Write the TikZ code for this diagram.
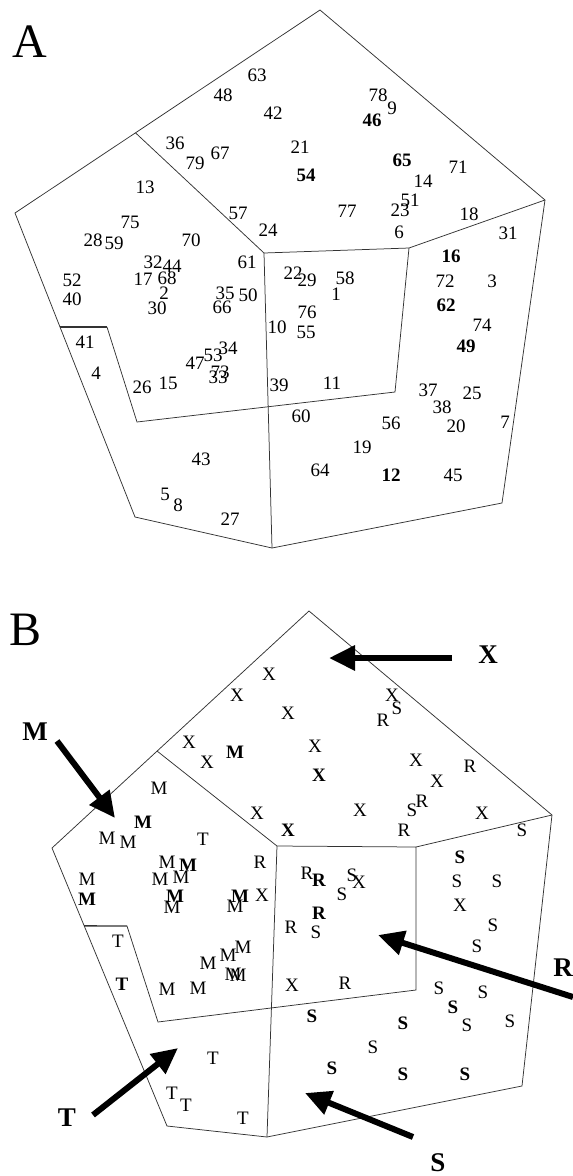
\documentclass[tikz,border=0pt]{standalone}
\usepackage{fontspec}
\setmainfont{Liberation Serif}
\usetikzlibrary{arrows.meta,calc}
\begin{document}
\begin{tikzpicture}[x=1pt,y=-1pt,
  edge/.style={line width=0.75pt,draw=black!80},
  num/.style={font=\fontsize{19}{19}\selectfont,inner sep=0pt},
  numb/.style={font=\fontsize{19}{19}\selectfont\bfseries,inner sep=0pt},
  big/.style={font=\fontsize{48}{48}\selectfont,inner sep=0pt},
  alab/.style={font=\fontsize{27}{27}\selectfont\bfseries,inner sep=0pt},
  fat/.style={line width=6pt,-{Triangle[length=26pt,width=24pt]}}]
\useasboundingbox (0,0) rectangle (573,1176);

% ---------------- Panel A ----------------
\node[big] (labA) at (30,42) {A};
\coordinate (aT) at (320,10);
\coordinate (aR) at (545,200);
\coordinate (aBR) at (502,503);
\coordinate (aB) at (272,548);
\coordinate (aBL) at (135,517);
\coordinate (aL) at (15,213);
\coordinate (aP1) at ($(aL)!0.395!(aT)$);
\coordinate (aQ1) at (264,253);
\coordinate (aQ2) at (409,248);
\coordinate (aQ3) at (395,392);
\coordinate (aM) at (137,422);
\coordinate (aK1) at ($(aL)!0.375!(aBL)$);
\coordinate (aK2) at (107,327);
\draw[edge] (aT)--(aR)--(aBR)--(aB)--(aBL)--(aL)--cycle;
\draw[edge] (aP1)--(aQ1)--(aQ2)--(aQ3)--(aM)--(aK2);
\draw[edge] (aQ1)--(aB);
\draw[edge] (aQ2)--(aR);
\draw[edge,line width=1.3pt] (aK1)--(aK2);

\node[num] (a63) at (257,75) {63};
\node[num] (a48) at (223,95) {48};
\node[num] (a42) at (273,113) {42};
\node[num] (a78) at (378,95) {78};
\node[num] (a9) at (392,108) {9};
\node[numb] (a46) at (372,120) {46};
\node[num] (a36) at (175,143) {36};
\node[num] (a67) at (220,153) {67};
\node[num] (a79) at (195,163) {79};
\node[num] (a21) at (300,147) {21};
\node[numb] (a54) at (306,175) {54};
\node[numb] (a65) at (402,160) {65};
\node[num] (a71) at (458,167) {71};
\node[num] (a14) at (423,181) {14};
\node[num] (a13) at (145,187) {13};
\node[num] (a51) at (410,200) {51};
\node[num] (a23) at (400,210) {23};
\node[num] (a77) at (347,211) {77};
\node[num] (a18) at (469,214) {18};
\node[num] (a57) at (238,213) {57};
\node[num] (a24) at (268,230) {24};
\node[num] (a75) at (130,222) {75};
\node[num] (a6) at (399,232) {6};
\node[num] (a31) at (508,233) {31};
\node[num] (a28) at (93,240) {28};
\node[num] (a59) at (114,243) {59};
\node[num] (a70) at (191,240) {70};
\node[num] (a32) at (153,262) {32};
\node[num] (a44) at (172,266) {44};
\node[num] (a61) at (247,262) {61};
\node[num] (a17) at (143,279) {17};
\node[num] (a68) at (167,278) {68};
\node[num] (a52) at (72,280) {52};
\node[num] (a40) at (72,299) {40};
\node[num] (a2) at (164,293) {2};
\node[num] (a30) at (157,308) {30};
\node[num] (a35) at (225,293) {35};
\node[num] (a50) at (248,295) {50};
\node[num] (a66) at (222,307) {66};
\node[num] (a22) at (293,273) {22};
\node[num] (a29) at (307,280) {29};
\node[num] (a58) at (345,278) {58};
\node[num] (a1) at (336,294) {1};
\node[num] (a76) at (307,312) {76};
\node[num] (a10) at (277,327) {10};
\node[num] (a55) at (306,332) {55};
\node[numb] (a16) at (451,256) {16};
\node[num] (a72) at (445,281) {72};
\node[num] (a3) at (492,281) {3};
\node[numb] (a62) at (446,305) {62};
\node[num] (a74) at (482,325) {74};
\node[numb] (a49) at (466,346) {49};
\node[num] (a41) at (85,342) {41};
\node[num] (a4) at (96,373) {4};
\node[num] (a47) at (195,363) {47};
\node[num] (a53) at (213,355) {53};
\node[num] (a34) at (228,348) {34};
\node[num] (a73) at (220,372) {73};
\node[num] (a33) at (218,377) {33};
\node[num] (a26) at (142,387) {26};
\node[num] (a15) at (168,383) {15};
\node[num] (a39) at (279,385) {39};
\node[num] (a11) at (332,383) {11};
\node[num] (a37) at (428,390) {37};
\node[num] (a25) at (472,393) {25};
\node[num] (a38) at (442,407) {38};
\node[num] (a60) at (301,416) {60};
\node[num] (a56) at (391,423) {56};
\node[num] (a20) at (456,426) {20};
\node[num] (a7) at (505,422) {7};
\node[num] (a19) at (362,447) {19};
\node[num] (a64) at (320,470) {64};
\node[numb] (a12) at (391,475) {12};
\node[num] (a45) at (453,475) {45};
\node[num] (a43) at (201,459) {43};
\node[num] (a5) at (165,494) {5};
\node[num] (a8) at (178,505) {8};
\node[num] (a27) at (230,519) {27};

% ---------------- Panel B ----------------
\node[big] (labB) at (26,630) {B};
\coordinate (bT) at (309,611);
\coordinate (bR) at (552,815);
\coordinate (bBR) at (522,1086);
\coordinate (bB) at (267,1137);
\coordinate (bBL) at (167,1126);
\coordinate (bL) at (52,848);
\coordinate (bP1) at ($(bL)!0.409!(bT)$);
\coordinate (bQ1) at (277,846);
\coordinate (bQ2) at (416,847);
\coordinate (bQ3) at (416,990);
\coordinate (bM) at (158,1022);
\coordinate (bK1) at ($(bL)!0.28!(bBL)$);
\coordinate (bK2) at (127,926);
\draw[edge] (bT)--(bR)--(bBR)--(bB)--(bBL)--(bL)--cycle;
\draw[edge] (bP1)--(bQ1)--(bQ2)--(bQ3)--(bM)--(bK2);
\draw[edge] (bQ1)--(bB);
\draw[edge] (bQ2)--(bR);
\draw[edge,line width=1.3pt] (bK1)--(bK2);

\node[num] (b1) at (269,674) {X};
\node[num] (b2) at (237,695) {X};
\node[num] (b3) at (288,713) {X};
\node[num] (b4) at (392,695) {X};
\node[num] (b5) at (397,708) {S};
\node[num] (b6) at (383,720) {R};
\node[num] (b7) at (189,742) {X};
\node[num] (b8) at (207,762) {X};
\node[numb] (b9) at (235,752) {M};
\node[num] (b10) at (315,746) {X};
\node[numb] (b11) at (319,775) {X};
\node[num] (b12) at (416,760) {X};
\node[num] (b13) at (437,781) {X};
\node[num] (b14) at (470,766) {R};
\node[num] (b15) at (159,788) {M};
\node[num] (b16) at (422,801) {R};
\node[num] (b17) at (412,810) {S};
\node[num] (b18) at (360,810) {X};
\node[num] (b19) at (482,813) {X};
\node[numb] (b20) at (143,822) {M};
\node[num] (b21) at (257,813) {X};
\node[numb] (b22) at (288,830) {X};
\node[num] (b23) at (404,830) {R};
\node[num] (b24) at (522,830) {S};
\node[num] (b25) at (107,838) {M};
\node[num] (b26) at (128,842) {M};
\node[num] (b27) at (203,839) {T};
\node[num] (b28) at (167,862) {M};
\node[numb] (b29) at (188,865) {M};
\node[num] (b30) at (260,862) {R};
\node[num] (b31) at (87,879) {M};
\node[numb] (b32) at (87,899) {M};
\node[num] (b33) at (160,879) {M};
\node[num] (b34) at (181,877) {M};
\node[numb] (b35) at (175,896) {M};
\node[num] (b36) at (172,907) {M};
\node[numb] (b37) at (240,896) {M};
\node[num] (b38) at (235,906) {M};
\node[num] (b39) at (262,895) {X};
\node[num] (b40) at (307,873) {R};
\node[numb] (b41) at (319,880) {R};
\node[num] (b42) at (352,875) {S};
\node[num] (b43) at (359,882) {X};
\node[num] (b44) at (342,894) {S};
\node[numb] (b45) at (319,913) {R};
\node[num] (b46) at (291,927) {R};
\node[num] (b47) at (316,932) {S};
\node[numb] (b48) at (460,857) {S};
\node[num] (b49) at (457,881) {S};
\node[num] (b50) at (497,881) {S};
\node[num] (b51) at (460,905) {X};
\node[num] (b52) at (493,925) {S};
\node[num] (b53) at (477,946) {S};
\node[num] (b54) at (118,941) {T};
\node[numb] (b55) at (122,984) {T};
\node[num] (b56) at (208,963) {M};
\node[num] (b57) at (228,955) {M};
\node[num] (b58) at (243,947) {M};
\node[num] (b59) at (233,974) {M};
\node[num] (b60) at (238,975) {M};
\node[num] (b61) at (167,989) {M};
\node[num] (b62) at (198,988) {M};
\node[num] (b63) at (292,985) {X};
\node[num] (b64) at (345,983) {R};
\node[num] (b65) at (439,988) {S};
\node[num] (b66) at (483,992) {S};
\node[numb] (b67) at (453,1007) {S};
\node[num] (b68) at (467,1025) {S};
\node[num] (b69) at (510,1021) {S};
\node[numb] (b70) at (312,1016) {S};
\node[numb] (b71) at (403,1023) {S};
\node[num] (b72) at (373,1047) {S};
\node[numb] (b73) at (332,1068) {S};
\node[numb] (b74) at (403,1074) {S};
\node[numb] (b75) at (465,1074) {S};
\node[num] (b76) at (213,1058) {T};
\node[num] (b77) at (172,1093) {T};
\node[num] (b78) at (186,1105) {T};
\node[num] (b79) at (243,1118) {T};

% arrow labels and arrows
\node[alab] (lM) at (35,732) {M};
\node[alab] (lX) at (488,655) {X};
\node[alab] (lR) at (563,968) {R};
\node[alab] (lT) at (67,1118) {T};
\node[alab] (lS) at (438,1163) {S};
\coordinate (mTail) at (57,741);
\coordinate (mTip) at (115,818);
\coordinate (xTail) at (452,658);
\coordinate (xTip) at (329,658);
\coordinate (rTail) at (573,997);
\coordinate (rTip) at (378,935);
\coordinate (tTail) at (93,1115);
\coordinate (tTip) at (178,1048);
\coordinate (sTail) at (413,1137);
\coordinate (sTip) at (305,1093);
\draw[fat] (mTail)--(mTip);
\draw[fat] (xTail)--(xTip);
\draw[fat] (rTail)--(rTip);
\draw[fat] (tTail)--(tTip);
\draw[fat] (sTail)--(sTip);
\end{tikzpicture}
\end{document}
